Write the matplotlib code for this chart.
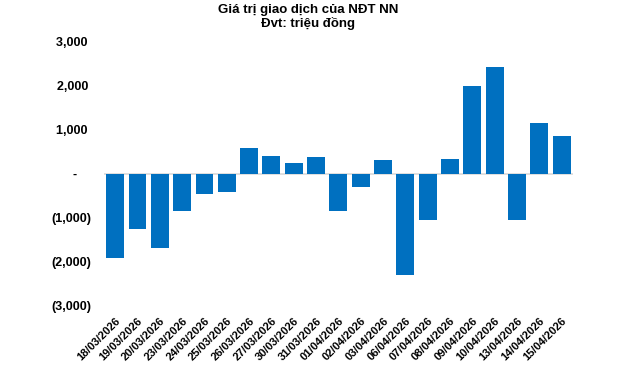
import matplotlib.pyplot as plt
from matplotlib.ticker import FuncFormatter

plt.rcParams['font.family'] = ['Liberation Sans', 'DejaVu Sans']
plt.rcParams['font.weight'] = 'bold'

dates = ['18/03/2026', '19/03/2026', '20/03/2026', '23/03/2026', '24/03/2026',
         '25/03/2026', '26/03/2026', '27/03/2026', '30/03/2026', '31/03/2026',
         '01/04/2026', '02/04/2026', '03/04/2026', '06/04/2026', '07/04/2026',
         '08/04/2026', '09/04/2026', '10/04/2026', '13/04/2026', '14/04/2026',
         '15/04/2026']
values = [-1920, -1240, -1690, -830, -465, -400, 580, 400, 260, 380,
          -830, -290, 320, -2290, -1040, 350, 2000, 2430, -1040, 1160, 870]
yticks = [-3000, -2000, -1000, 0, 1000, 2000, 3000]


# accounting style: (1,000) for negatives, "-" for zero
def fmt(v, pos):
    if v == 0:
        return '-    '
    if v < 0:
        return '({:,.0f})'.format(-v)
    return '{:,.0f} '.format(v)


fig = plt.figure(figsize=(6.4, 3.7), dpi=100)
ax = fig.add_axes([0.1625, 0.173, 0.7325, 0.7135])

x = range(len(dates))
ax.bar(x, values, width=0.8, color='#0070C0', zorder=2)
ax.axhline(0, color='#D9D9D9', lw=1.2, zorder=1)

ax.set_xlim(-0.5, len(dates) - 0.5)
ax.set_ylim(-3000, 3000)
ax.set_yticks(yticks)
ax.yaxis.set_major_formatter(FuncFormatter(fmt))
ax.set_xticks(list(x))
ax.set_xticklabels(dates, rotation=45, ha='right', rotation_mode='anchor', fontsize=8)
ax.tick_params(axis='y', labelsize=9, length=0, pad=9)
ax.tick_params(axis='x', length=0, pad=7)
for s in ax.spines.values():
    s.set_visible(False)

fig.text(0.481, 0.973, 'Giá trị giao dịch của NĐT NN', ha='center', va='center', fontsize=9.5, fontweight='bold')
fig.text(0.481, 0.937, 'Đvt: triệu đồng', ha='center', va='center', fontsize=9.5, fontweight='bold')

fig.savefig('out.png', dpi=100)
